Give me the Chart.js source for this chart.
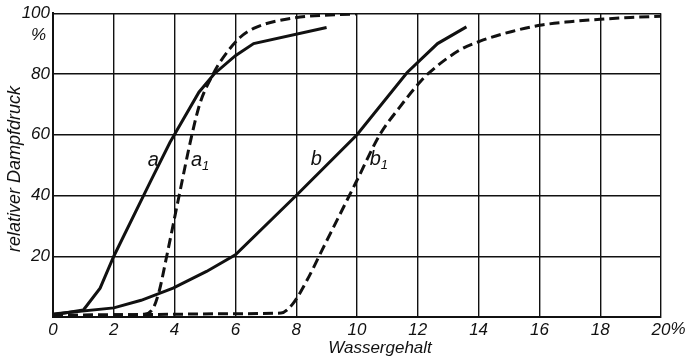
<!DOCTYPE html>
<html>
<head>
<meta charset="utf-8">
<script src="https://cdn.jsdelivr.net/npm/chart.js@4.4.1/dist/chart.umd.min.js"></script>
<style>
  html, body { margin: 0; padding: 0; background: #fff; }
  #wrap { width: 685px; height: 363px; }
</style>
</head>
<body>
<div id="wrap"><canvas id="dampf" width="685" height="363"></canvas></div>
<script>
// Wassergehalt (%) gegen relativen Dampfdruck (%)
const xTicks = [0, 2, 4, 6, 8, 10, 12, 14, 16, 18, 20];
const yTicks = [20, 40, 60, 80, 100];

const aX = [0, 1.0, 1.55, 2.0, 3.2, 3.85, 4.8, 5.3, 6.0, 6.6, 9.0];
const aY = [0.7, 2.3, 9.5, 20, 44.5, 57.5, 74, 80, 86, 90, 95.3];

const a1X = [0, 1, 2, 3.0, 3.3, 3.5, 3.74, 4.15, 4.57, 4.84, 5.27, 5.5, 6.15, 6.6, 7.9, 10.0];
const a1Y = [0.5, 0.6, 0.7, 0.9, 3, 8.8, 20, 40, 60, 70.5, 80, 84, 92, 95, 98.4, 99.8];

const bX = [0, 2, 2.9, 3.95, 5.05, 6.0, 8.0, 10.0, 11.65, 12.65, 13.6];
const bY = [1, 3, 5.5, 9.5, 15, 20.5, 40, 60, 80.5, 90, 95.5];

const b1X = [0, 2, 4, 6, 7.5, 7.9, 8.35, 8.9, 9.45, 10.0, 10.75, 11.4, 12.0, 12.33, 13.4, 14.05, 15.1, 16.0, 17.0, 18.0, 19.0, 20];
const b1Y = [0.5, 0.7, 0.9, 1.1, 1.3, 4.5, 12, 23, 34, 45, 60, 69, 76.5, 80, 88, 90.8, 94, 96, 97.2, 98, 98.6, 99];

// Kurvenbezeichnungen: Buchstabe, Index, Lage in Datenkoordinaten
const curveLabels = [
    { t: 'a', sub: '', x: 3.3, y: 51.5 },
    { t: 'a', sub: '1', x: 4.72, y: 51.5 },
    { t: 'b', sub: '', x: 8.66, y: 52 },
    { t: 'b', sub: '1', x: 10.6, y: 52 }
];

const FONT = '"Liberation Sans", Arial, sans-serif';
const INK = '#111';

function pts(xs, ys) {
    return xs.map((x, i) => ({ x: x, y: ys[i] }));
}

const annotations = {
    id: 'annotations',
    afterDraw(chart) {
        const ctx = chart.ctx;
        const xs = chart.scales.x, ys = chart.scales.y;
        ctx.save();
        ctx.fillStyle = INK;
        ctx.textBaseline = 'middle';

        // Kurvenbuchstaben
        curveLabels.forEach(l => {
            const px = xs.getPixelForValue(l.x), py = ys.getPixelForValue(l.y);
            ctx.font = 'italic 20px ' + FONT;
            ctx.textAlign = 'center';
            ctx.fillText(l.t, px, py);
            if (l.sub) {
                const w = ctx.measureText(l.t).width;
                ctx.font = 'italic 13px ' + FONT;
                ctx.textAlign = 'left';
                ctx.fillText(l.sub, px + w / 2, py + 6);
            }
        });

        // Prozentzeichen an den Achsen
        ctx.font = 'italic 17px ' + FONT;
        ctx.textAlign = 'right';
        ctx.fillText('%', 46, ys.getPixelForValue(100) + 22);
        ctx.textAlign = 'left';
        const w20 = ctx.measureText('20').width;
        ctx.fillText('%', xs.getPixelForValue(20) + w20 / 2, xs.bottom - 46 + 12);

        // Achsentitel
        ctx.textAlign = 'center';
        ctx.fillText('Wassergehalt', 380, 348);
        ctx.translate(15, 169);
        ctx.rotate(-Math.PI / 2);
        ctx.font = 'italic 18px ' + FONT;
        ctx.fillText('relativer Dampfdruck', 0, 0);
        ctx.restore();
    }
};

const solid = (xs, ys) => ({
    data: pts(xs, ys),
    borderColor: INK,
    borderWidth: 3,
    pointRadius: 0,
    tension: 0,
    fill: false
});

const dashed = (xs, ys) => ({
    data: pts(xs, ys),
    borderColor: INK,
    borderWidth: 3,
    borderDash: [10, 5],
    pointRadius: 0,
    cubicInterpolationMode: 'monotone',
    fill: false
});

new Chart(document.getElementById('dampf').getContext('2d'), {
    type: 'line',
    data: {
        datasets: [
            solid(aX, aY),
            dashed(a1X, a1Y),
            solid(bX, bY),
            dashed(b1X, b1Y)
        ]
    },
    options: {
        responsive: false,
        animation: false,
        layout: { padding: { left: 0, right: 24, top: 10, bottom: 0 } },
        plugins: { legend: { display: false }, tooltip: { enabled: false } },
        scales: {
            x: {
                type: 'linear',
                min: 0,
                max: 20,
                afterBuildTicks: s => { s.ticks = xTicks.map(v => ({ value: v })); },
                afterFit: s => { s.height = 46; },
                ticks: {
                    color: INK,
                    padding: 3,
                    maxRotation: 0,
                    font: { family: FONT, size: 17, style: 'italic' }
                },
                grid: { color: INK, lineWidth: 1.4, drawTicks: false },
                border: { color: INK, width: 2 }
            },
            y: {
                min: 0,
                max: 100,
                afterBuildTicks: s => { s.ticks = yTicks.map(v => ({ value: v })); },
                afterFit: s => { s.width = 53; },
                ticks: {
                    color: INK,
                    padding: 3,
                    font: { family: FONT, size: 17, style: 'italic' }
                },
                grid: { color: INK, lineWidth: 1.4, drawTicks: false },
                border: { color: INK, width: 2 }
            }
        }
    },
    plugins: [annotations]
});
</script>
</body>
</html>
